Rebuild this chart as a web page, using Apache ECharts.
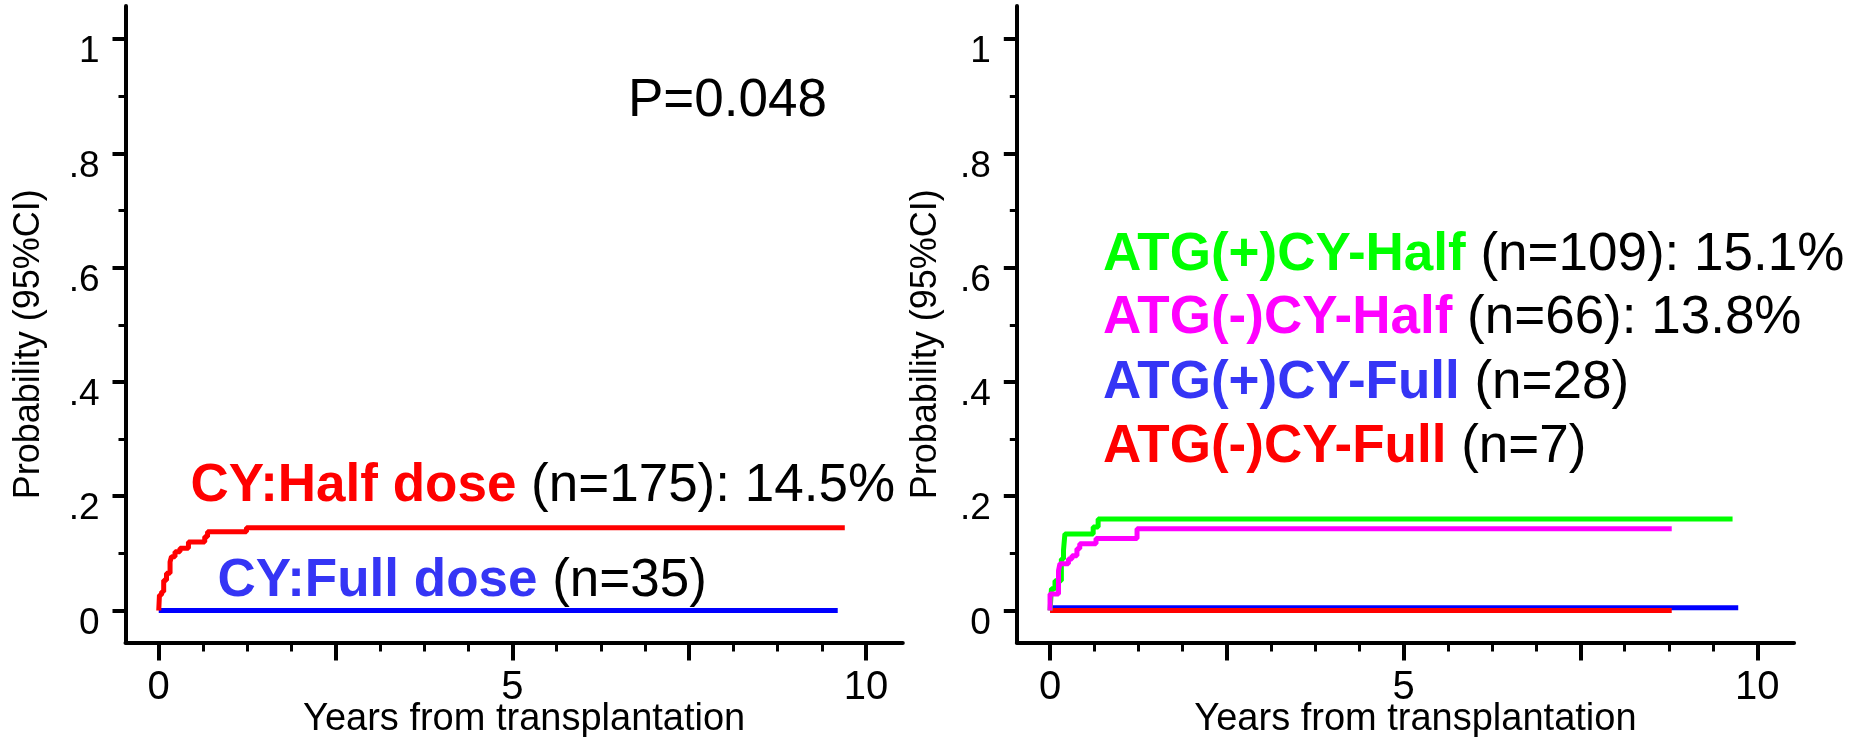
<!DOCTYPE html>
<html>
<head>
<meta charset="utf-8">
<script src="https://cdn.jsdelivr.net/npm/echarts@6/dist/echarts.min.js"></script>
<style>
html,body{margin:0;padding:0;background:#fff;}
#chart{width:1856px;height:737px;}
</style>
</head>
<body>
<div id="chart"></div>
<script>
// ---- tick definitions ----
const xMajorTicks = [0, 2.5, 5, 7.5, 10];
const xLabelValues = [0, 5, 10];
const xMinorTicks = [0.625, 1.25, 1.875, 3.125, 3.75, 4.375, 5.625, 6.25, 6.875, 8.125, 8.75, 9.375];
const yMajorTicks = [0, 0.2, 0.4, 0.6, 0.8, 1];
const yTickLabels = ['0', '.2', '.4', '.6', '.8', '1'];
const yMinorTicks = [0.1, 0.3, 0.5, 0.7, 0.9];
const xAxisTitle = 'Years from transplantation';
const yAxisTitle = 'Probability (95%CI)';

// ---- left panel data (years, cumulative probability) ----
const leftHalfX = [0, 0.01, 0.04, 0.07, 0.11, 0.16, 0.18, 0.23, 0.30, 0.42, 0.65, 0.69, 1.24, 9.70];
const leftHalfY = [0, 0.027, 0.033, 0.053, 0.065, 0.085, 0.094, 0.103, 0.109, 0.120, 0.129, 0.138, 0.145, 0.145];
const leftFullX = [0, 9.60];
const leftFullY = [0, 0];

// ---- right panel data ----
const atgPosHalfX = [0, 0.02, 0.07, 0.16, 0.19, 0.21, 0.61, 0.68, 9.65];
const atgPosHalfY = [0, 0.038, 0.052, 0.090, 0.105, 0.134, 0.146, 0.160, 0.160];
const atgNegHalfX = [0, 0.00, 0.12, 0.14, 0.26, 0.31, 0.38, 0.42, 0.65, 1.23, 8.79];
const atgNegHalfY = [0, 0.029, 0.070, 0.082, 0.090, 0.096, 0.108, 0.117, 0.126, 0.143, 0.143];
const atgPosFullX = [0, 9.73];
const atgPosFullY = [0.005, 0.005];
const atgNegFullX = [0, 8.79];
const atgNegFullY = [0, 0];

// ---- annotation texts ----
const pValueText = 'P=0.048';
const leftNotes = [
  {name: 'CY:Half dose', rest: ' (n=175): 14.5%', color: '#ff0000'},
  {name: 'CY:Full dose', rest: ' (n=35)', color: '#3535f5'}
];
const rightNotes = [
  {name: 'ATG(+)CY-Half', rest: ' (n=109): 15.1%', color: '#00ff00'},
  {name: 'ATG(-)CY-Half', rest: ' (n=66): 13.8%', color: '#ff00ff'},
  {name: 'ATG(+)CY-Full', rest: ' (n=28)', color: '#3535f5'},
  {name: 'ATG(-)CY-Full', rest: ' (n=7)', color: '#ff0000'}
];

const FONT = "'Liberation Sans', Arial, sans-serif";
const zip = (xs, ys) => xs.map((x, i) => [x, ys[i]]);

const X_MIN = -0.47, X_MAX = 10.52, Y_MIN = -0.056, Y_MAX = 1.058;
const gridW = 777.3;

function majorX(grid) {
  return {
    type: 'value', gridIndex: grid, position: 'bottom', min: X_MIN, max: X_MAX,
    splitLine: {show: false},
    axisLine: {show: true, onZero: false, lineStyle: {color: '#000', width: 4}},
    axisTick: {show: true, customValues: xMajorTicks, length: 18, lineStyle: {color: '#000', width: 4}},
    axisLabel: {show: true, customValues: xLabelValues, margin: 25, fontSize: 40, fontFamily: FONT, color: '#000',
      formatter: v => String(v)},
    name: xAxisTitle, nameLocation: 'middle', nameGap: 58, nameMoveOverlap: false,
    nameTextStyle: {fontSize: 38, fontFamily: FONT, color: '#000', padding: [0, 0, 0, 20]}
  };
}
function minorX(grid) {
  return {
    type: 'value', gridIndex: grid, position: 'bottom', min: X_MIN, max: X_MAX,
    splitLine: {show: false},
    axisLine: {show: false, onZero: false},
    axisTick: {show: true, customValues: xMinorTicks, length: 9, lineStyle: {color: '#000', width: 3}},
    axisLabel: {show: false}
  };
}
function majorY(grid, gap) {
  return {
    type: 'value', gridIndex: grid, position: 'left', min: Y_MIN, max: Y_MAX,
    splitLine: {show: false},
    axisLine: {show: true, onZero: false, lineStyle: {color: '#000', width: 4}},
    axisTick: {show: true, customValues: yMajorTicks, length: 13, lineStyle: {color: '#000', width: 4}},
    axisLabel: {show: true, customValues: yMajorTicks, margin: 26, fontSize: 37, fontFamily: FONT, color: '#000',
      verticalAlign: 'top', lineHeight: 26,
      formatter: v => {
        const i = yMajorTicks.findIndex(t => Math.abs(t - v) < 1e-6);
        return i >= 0 ? yTickLabels[i] : '';
      }},
    name: yAxisTitle, nameLocation: 'middle', nameGap: gap, nameMoveOverlap: false,
    nameTextStyle: {fontSize: 36, fontFamily: FONT, color: '#000', padding: [0, 40, 0, 0]}
  };
}
function minorY(grid) {
  return {
    type: 'value', gridIndex: grid, position: 'left', min: Y_MIN, max: Y_MAX,
    splitLine: {show: false},
    axisLine: {show: false, onZero: false},
    axisTick: {show: true, customValues: yMinorTicks, length: 7, lineStyle: {color: '#000', width: 3}},
    axisLabel: {show: false}
  };
}
function stepSeries(name, xi, yi, xs, ys, color) {
  return {
    name, type: 'line', xAxisIndex: xi, yAxisIndex: yi, data: zip(xs, ys),
    step: 'end', symbol: 'none', showSymbol: false, silent: true,
    lineStyle: {color, width: 5}, z: 3
  };
}
function noteText(note, x, y, size) {
  return {
    type: 'text', x: x, y: y, z: 10,
    style: {
      text: '{b|' + note.name + '}{r|' + note.rest + '}',
      verticalAlign: 'middle', align: 'left',
      rich: {
        b: {fontSize: size, fontWeight: 'bold', fontFamily: FONT, fill: note.color},
        r: {fontSize: size, fontFamily: FONT, fill: '#000'}
      }
    }
  };
}

const chart = echarts.init(document.getElementById('chart'), null, {renderer: 'canvas'});
chart.setOption({
  animation: false,
  backgroundColor: '#fff',
  grid: [
    {left: 125.5, width: gridW, top: 5.9, bottom: 94.5, containLabel: false, outerBoundsMode: 'none'},
    {left: 1016.8, width: gridW, top: 5.9, bottom: 94.5, containLabel: false, outerBoundsMode: 'none'}
  ],
  xAxis: [majorX(0), majorX(1), minorX(0), minorX(1)],
  yAxis: [majorY(0, 78), majorY(1, 73), minorY(0), minorY(1)],
  series: [
    stepSeries('CY:Full dose', 0, 0, leftFullX, leftFullY, '#0000ff'),
    stepSeries('CY:Half dose', 0, 0, leftHalfX, leftHalfY, '#ff0000'),
    stepSeries('ATG(+)CY-Full', 1, 1, atgPosFullX, atgPosFullY, '#0000ff'),
    stepSeries('ATG(-)CY-Full', 1, 1, atgNegFullX, atgNegFullY, '#ff0000'),
    stepSeries('ATG(+)CY-Half', 1, 1, atgPosHalfX, atgPosHalfY, '#00ff00'),
    stepSeries('ATG(-)CY-Half', 1, 1, atgNegHalfX, atgNegHalfY, '#ff00ff')
  ],
  graphic: [
    {type: 'text', x: 628, y: 101, z: 10, style: {text: pValueText, fontSize: 53, fontFamily: FONT, fill: '#000', verticalAlign: 'middle'}},
    noteText(leftNotes[0], 190.5, 486.5, 53),
    noteText(leftNotes[1], 217.5, 581.5, 53),
    noteText(rightNotes[0], 1103, 255, 53),
    noteText(rightNotes[1], 1103, 318.5, 53),
    noteText(rightNotes[2], 1103, 383.5, 53),
    noteText(rightNotes[3], 1103, 447.5, 53)
  ]
});
</script>
</body>
</html>
